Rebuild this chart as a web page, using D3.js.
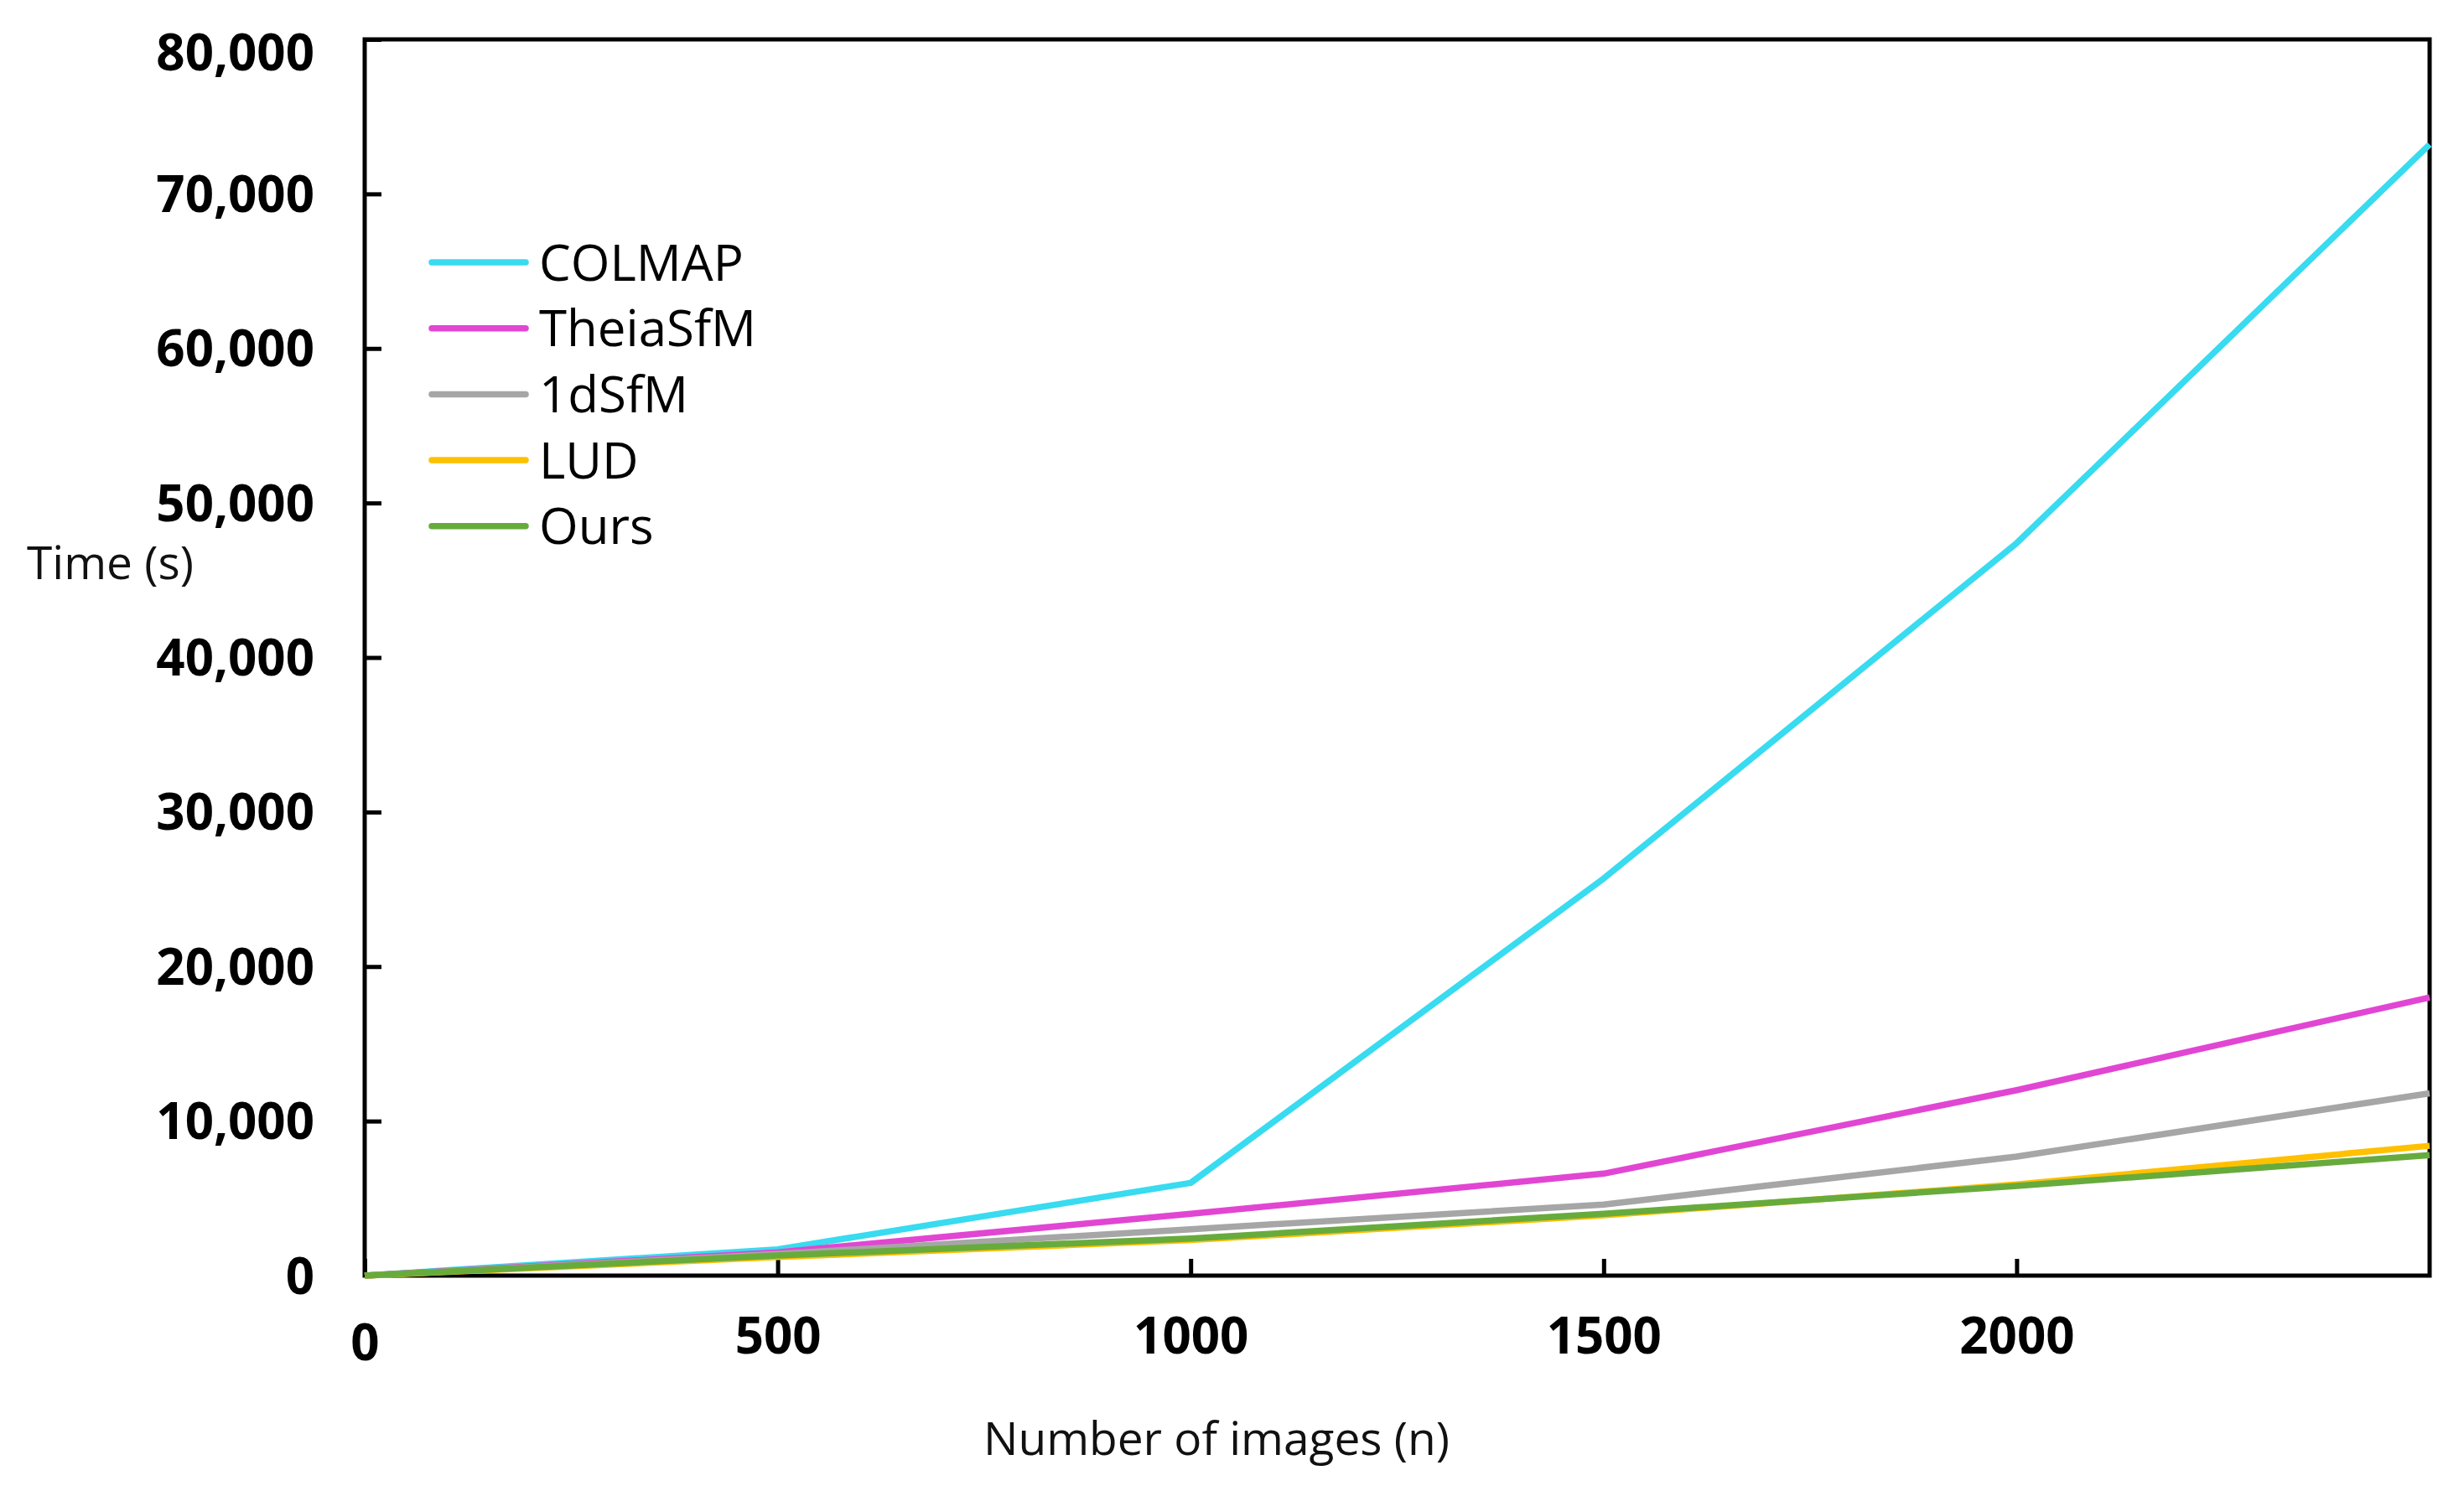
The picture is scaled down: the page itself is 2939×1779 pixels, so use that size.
<!DOCTYPE html>
<html>
<head>
<meta charset="utf-8">
<script src="https://cdn.jsdelivr.net/npm/d3@7"></script>
<style>
  body { margin: 0; background: #fff; }
  svg { display: block; }
</style>
</head>
<body>
<svg id="chart"></svg>
<script>
// values
const images = [0, 500, 1000, 1500, 2000, 2500];
const colmap = [0, 1700, 6000, 25700, 47400, 73200];
const theia = [0, 1500, 4000, 6600, 12000, 18000];
const oneD = [0, 1400, 3000, 4600, 7700, 11800];
const lud = [0, 1200, 2300, 3900, 5900, 8400];
const ours = [0, 1300, 2400, 4000, 5800, 7800];

const seriesNames = ['COLMAP', 'TheiaSfM', '1dSfM', 'LUD', 'Ours'];
const seriesValues = [colmap, theia, oneD, lud, ours];
const seriesColors = ['#38dbef', '#e146d3', '#a6a6a6', '#ffc000', '#67ab3d'];

const xTicks = [0, 500, 1000, 1500, 2000];
const yTicks = [0, 10000, 20000, 30000, 40000, 50000, 60000, 70000, 80000];

const width = 2939;
const height = 1779;
const plotLeft = 435, plotRight = 2898, plotTop = 47, plotBottom = 1522;

const svg = d3.select('#chart')
    .attr('width', width)
    .attr('height', height);

const x = d3.scaleLinear()
  .domain([0, 2500])
  .range([plotLeft, plotRight]);

const y = d3.scaleLinear()
  .domain([0, 80000])
  .range([plotBottom, plotTop]);

const font = '"Open Sans", "Noto Sans", sans-serif';

// y axis, ticks pointing into the plot
const yAxis = svg.append('g')
    .attr('transform', `translate(${plotLeft},0)`)
    .call(d3.axisLeft(y)
      .tickValues(yTicks)
      .tickSize(-20)
      .tickPadding(60)
      .tickFormat(d3.format(',')));

yAxis.select('.domain').remove();
yAxis.selectAll('line')
    .attr('stroke', '#000')
    .attr('stroke-width', 5);
yAxis.selectAll('text')
    .attr('font-family', font)
    .attr('font-weight', 'bold')
    .attr('font-size', 60)
    .attr('fill', '#000')
    .attr('dy', d => d === 80000 ? '0.6em' : '0.35em');

// x axis
const xAxis = svg.append('g')
    .attr('transform', `translate(0,${plotBottom})`)
    .call(d3.axisBottom(x)
      .tickValues(xTicks)
      .tickSize(-20)
      .tickPadding(50)
      .tickFormat(d3.format('d')));

xAxis.select('.domain').remove();
xAxis.selectAll('line')
    .attr('stroke', '#000')
    .attr('stroke-width', 5);
xAxis.selectAll('text')
    .attr('font-family', font)
    .attr('font-weight', 'bold')
    .attr('font-size', 60)
    .attr('fill', '#000')
    .attr('dy', d => d === 0 ? '0.85em' : '0.71em');

// plot frame
svg.append('rect')
    .attr('x', plotLeft)
    .attr('y', plotTop)
    .attr('width', plotRight - plotLeft)
    .attr('height', plotBottom - plotTop)
    .attr('fill', 'none')
    .attr('stroke', '#000')
    .attr('stroke-width', 5);

const line = d3.line()
  .x((d, i) => x(images[i]))
  .y(d => y(d));

svg.append('g')
  .selectAll('path')
  .data(seriesValues)
  .join('path')
    .attr('d', line)
    .attr('fill', 'none')
    .attr('stroke', (d, i) => seriesColors[i])
    .attr('stroke-width', 7.5)
    .attr('stroke-linejoin', 'round');

// legend
const legend = svg.append('g')
    .attr('transform', 'translate(515,313)');

const rows = legend.selectAll('g')
  .data(seriesNames)
  .join('g')
    .attr('transform', (d, i) => `translate(0,${i * 78.7})`);

rows.append('line')
    .attr('x1', 0)
    .attr('x2', 112)
    .attr('stroke', (d, i) => seriesColors[i])
    .attr('stroke-width', 7.5)
    .attr('stroke-linecap', 'round');

rows.append('text')
    .attr('x', 128)
    .attr('dy', '0.36em')
    .attr('font-family', font)
    .attr('font-size', 60)
    .attr('fill', '#000')
    .text(d => d);

// axis titles
svg.append('text')
    .attr('x', 32)
    .attr('y', 671)
    .attr('dy', '0.36em')
    .attr('font-family', font)
    .attr('font-size', 55)
    .attr('fill', '#111')
    .text('Time (s)');

svg.append('text')
    .attr('x', 1451)
    .attr('y', 1716)
    .attr('dy', '0.36em')
    .attr('text-anchor', 'middle')
    .attr('font-family', font)
    .attr('font-size', 55)
    .attr('fill', '#111')
    .text('Number of images (n)');
</script>
</body>
</html>
